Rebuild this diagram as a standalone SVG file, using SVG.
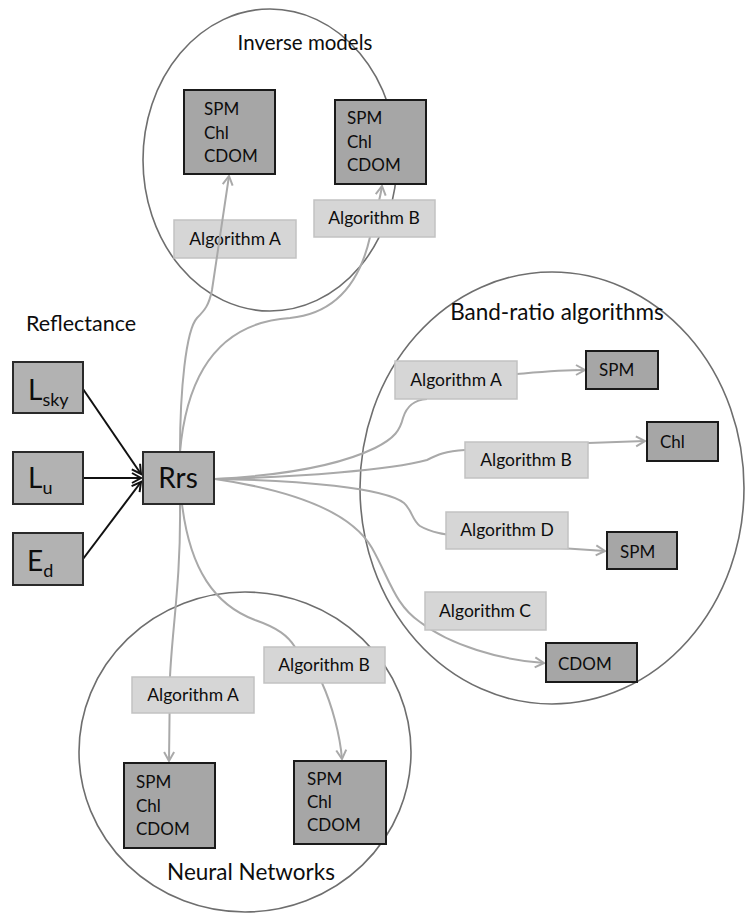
<svg xmlns="http://www.w3.org/2000/svg" width="746" height="914" viewBox="0 0 746 914">
<style>
text{font-family:Lato,"Open Sans","Liberation Sans",sans-serif;fill:#0d0d0d}
.title{font-size:22.5px}
.big{font-size:28px}
.sub{font-size:18px}
.lbl{font-size:17px}
.alg{font-size:17.5px;text-anchor:middle}
.circ{fill:none;stroke:#6e6e6e;stroke-width:1.6}
.in{fill:#b2b2b2;stroke:#2a2a2a;stroke-width:2}
.out{fill:#a6a6a6;stroke:#1a1a1a;stroke-width:2}
.algbox{fill:#d6d6d6;stroke:#c2c2c2;stroke-width:1.5}
.gc{fill:none;stroke:#a9a9a9;stroke-width:2}
.bc{fill:none;stroke:#111;stroke-width:2}
</style>
<defs>
<marker id="ag" markerUnits="userSpaceOnUse" markerWidth="14" markerHeight="14" refX="10" refY="6" orient="auto" viewBox="0 0 14 12">
<path d="M1,1 L10,6 L1,11" fill="none" stroke="#a9a9a9" stroke-width="2"/>
</marker>
<marker id="ab" markerUnits="userSpaceOnUse" markerWidth="14" markerHeight="14" refX="10" refY="6" orient="auto" viewBox="0 0 14 12">
<path d="M1,1 L10,6 L1,11" fill="none" stroke="#111" stroke-width="2"/>
</marker>
</defs>
<rect width="746" height="914" fill="#fff"/>
<g id="groups">
<ellipse class="circ" cx="270" cy="160" rx="127" ry="151"/>
<ellipse class="circ" cx="552" cy="488" rx="192" ry="216"/>
<ellipse class="circ" cx="245" cy="752" rx="166" ry="160"/>
<text class="title" x="305" y="50" text-anchor="middle" style="font-size:20.5px">Inverse models</text>
<text class="title" x="557" y="320" text-anchor="middle">Band-ratio algorithms</text>
<text class="title" x="251" y="880" text-anchor="middle">Neural Networks</text>
<text class="title" x="26" y="331" style="font-size:21.5px">Reflectance</text>
</g>
<g id="inv-alg-a"><rect class="algbox" x="174" y="220" width="122" height="38"/><text class="alg" x="235" y="245">Algorithm A</text></g>
<g id="connectors">
<path class="bc" marker-end="url(#ab)" d="M83,389 L141,474"/>
<path class="bc" marker-end="url(#ab)" d="M83,478 L141,478"/>
<path class="bc" marker-end="url(#ab)" d="M83,559 L141,482"/>
<path class="gc" marker-end="url(#ag)" d="M180,452 C180,390 186,330 197,318 C205,310 209,305 212,290 L229,176"/>
<path class="gc" marker-end="url(#ag)" d="M180,452 C188,360 230,322 290,318 C330,314 358,290 370,237 C374,220 380,200 382,186"/>
<path class="gc" d="M215,479 C290,475 340,465 375,448 C395,438 400,430 403,418 C407,405 415,400 427,399"/>
<path class="gc" marker-end="url(#ag)" d="M517,374 C540,372 560,370 585,370"/>
<path class="gc" marker-end="url(#ag)" d="M215,479 C300,477 390,470 427,460 C437,455 445,451 465,450 L588,443 L645,441"/>
<path class="gc" marker-end="url(#ag)" d="M215,479 C300,480 385,488 404,503 C412,510 412,520 420,526 C430,532 440,534 480,540 L560,548 C575,549 590,550 605,551"/>
<path class="gc" marker-end="url(#ag)" d="M215,479 C290,490 350,510 372,548 C390,580 395,605 420,622 C450,645 500,660 544,663"/>
<path class="gc" marker-end="url(#ag)" d="M180,504 C181,580 172,630 170,677 L169,761"/>
<path class="gc" marker-end="url(#ag)" d="M182,504 C190,570 215,605 255,620 C278,628 288,636 295,647 L322,683 C332,705 340,735 342,759"/>
</g>
<g id="lsky"><rect class="in" x="13" y="362" width="70" height="51"/><text class="big" x="28" y="400">L<tspan class="sub" dy="6">sky</tspan></text></g>
<g id="lu"><rect class="in" x="13" y="452" width="70" height="52"/><text class="big" x="28" y="488">L<tspan class="sub" dy="6">u</tspan></text></g>
<g id="ed"><rect class="in" x="13" y="533" width="70" height="52"/><text class="big" x="27" y="571">E<tspan class="sub" dy="6">d</tspan></text></g>
<g id="rrs"><rect class="in" x="143" y="452" width="71" height="52"/><text class="big" x="178" y="488" text-anchor="middle">Rrs</text></g>
<g id="inv-out-a"><rect class="out" x="184" y="90" width="91" height="84"/><text class="lbl" x="204" y="115">SPM</text><text class="lbl" x="204" y="139">Chl</text><text class="lbl" x="204" y="162">CDOM</text></g>
<g id="inv-alg-b"><rect class="algbox" x="314" y="200" width="121" height="37"/><text class="alg" x="374" y="224">Algorithm B</text></g>
<g id="inv-out-b"><rect class="out" x="335" y="100" width="91" height="84"/><text class="lbl" x="347" y="124">SPM</text><text class="lbl" x="347" y="148">Chl</text><text class="lbl" x="347" y="171">CDOM</text></g>
<g id="br-alg-a"><rect class="algbox" x="395" y="361" width="122" height="38"/><text class="alg" x="456" y="386">Algorithm A</text></g>
<g id="br-spm1"><rect class="out" x="586" y="351" width="72" height="38"/><text class="lbl" x="599" y="376">SPM</text></g>
<g id="br-alg-b"><rect class="algbox" x="465" y="442" width="123" height="36"/><text class="alg" x="526" y="466">Algorithm B</text></g>
<g id="br-chl"><rect class="out" x="647" y="422" width="71" height="39"/><text class="lbl" x="660" y="448">Chl</text></g>
<g id="br-alg-d"><rect class="algbox" x="446" y="512" width="122" height="37"/><text class="alg" x="507" y="536">Algorithm D</text></g>
<g id="br-spm2"><rect class="out" x="607" y="532" width="70" height="37"/><text class="lbl" x="620" y="558">SPM</text></g>
<g id="br-alg-c"><rect class="algbox" x="425" y="592" width="121" height="38"/><text class="alg" x="485" y="617">Algorithm C</text></g>
<g id="br-cdom"><rect class="out" x="546" y="643" width="91" height="39"/><text class="lbl" x="558" y="670">CDOM</text></g>
<g id="nn-alg-a"><rect class="algbox" x="132" y="677" width="122" height="36"/><text class="alg" x="193" y="701">Algorithm A</text></g>
<g id="nn-alg-b"><rect class="algbox" x="264" y="647" width="121" height="36"/><text class="alg" x="324" y="671">Algorithm B</text></g>
<g id="nn-out-a"><rect class="out" x="124" y="763" width="91" height="85"/><text class="lbl" x="136" y="788">SPM</text><text class="lbl" x="136" y="812">Chl</text><text class="lbl" x="136" y="835">CDOM</text></g>
<g id="nn-out-b"><rect class="out" x="294" y="761" width="92" height="83"/><text class="lbl" x="307" y="785">SPM</text><text class="lbl" x="307" y="808">Chl</text><text class="lbl" x="307" y="831">CDOM</text></g>
</svg>
